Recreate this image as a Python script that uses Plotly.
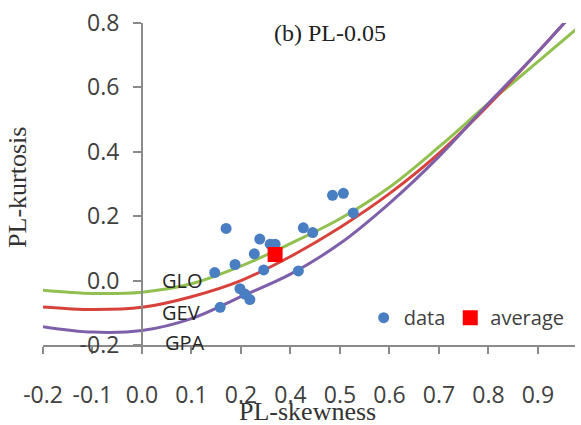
import plotly.graph_objects as go

# Theoretical curves (PL-skewness, PL-kurtosis)
curve_x = [-0.2, -0.1, 0.0, 0.1, 0.2, 0.3, 0.4, 0.5, 0.6, 0.7, 0.8, 0.9]
glo_y = [-0.030, -0.040, -0.036, -0.010, 0.045, 0.115, 0.192, 0.290, 0.415, 0.550, 0.680, 0.810]
gev_y = [-0.082, -0.090, -0.083, -0.050, 0.000, 0.075, 0.165, 0.270, 0.395, 0.545, 0.710, 0.880]
gpa_y = [-0.143, -0.160, -0.155, -0.118, -0.050, 0.020, 0.115, 0.240, 0.385, 0.550, 0.710, 0.880]

# Observed data points
data_x = [0.147, 0.158, 0.170, 0.188, 0.198, 0.208, 0.218, 0.227, 0.238, 0.246,
          0.259, 0.269, 0.316, 0.326, 0.345, 0.385, 0.407, 0.427]
data_y = [0.025, -0.083, 0.162, 0.050, -0.025, -0.042, -0.059, 0.083, 0.129, 0.033,
          0.113, 0.113, 0.030, 0.164, 0.149, 0.265, 0.271, 0.210]

avg_x = [0.269]
avg_y = [0.081]

# Tick labels (as printed on the original chart)
x_tickvals = [-0.2, -0.1, 0.0, 0.1, 0.2, 0.3, 0.4, 0.5, 0.6, 0.7, 0.8]
x_ticktext = ["-0.2", "-0.1", "0.0", "0.1", "0.2", "0.4", "0.5", "0.6", "0.7", "0.8", "0.9"]
y_tickvals = [-0.2, 0.0, 0.2, 0.4, 0.6, 0.8]
y_ticktext = ["-0.2", "0.0", "0.2", "0.4", "0.6", "0.8"]

curve_labels = ["GLO", "GEV", "GPA"]
label_y = [0.0, -0.098, -0.191]
label_x = [0.036, 0.036, 0.043]

SANS = "Open Sans"
SERIF = "Liberation Serif"
AXIS_COLOR = "#8a8a8a"

fig = go.Figure()
for ys, col in [(glo_y, "#92C050"), (gev_y, "#D8423C"), (gpa_y, "#7E5FAA")]:
    fig.add_trace(go.Scatter(x=curve_x, y=ys, mode="lines", showlegend=False,
                             line=dict(color=col, width=3, shape="spline", smoothing=1.0),
                             hoverinfo="skip"))

fig.add_trace(go.Scatter(x=data_x, y=data_y, mode="markers", name="data",
                         marker=dict(color="#4A7EC2", size=11, symbol="circle")))
fig.add_trace(go.Scatter(x=avg_x, y=avg_y, mode="markers", name="average",
                         marker=dict(color="#FF0000", size=15, symbol="square")))

annotations = []
for t, lx, ly in zip(curve_labels, label_x, label_y):
    annotations.append(dict(x=lx, y=ly, xref="x", yref="y", text=t, showarrow=False,
                            xanchor="left", yanchor="middle",
                            font=dict(family=SANS, size=20, color="#262626")))
annotations.append(dict(x=0.539, y=0.97, xref="paper", yref="paper", text="(b) PL-0.05",
                        showarrow=False, xanchor="center", yanchor="middle",
                        font=dict(family=SERIF, size=24, color="#222222")))
annotations.append(dict(x=-0.047, y=0.491, xref="paper", yref="paper", text="PL-kurtosis",
                        showarrow=False, textangle=-90, xanchor="center", yanchor="middle",
                        font=dict(family=SERIF, size=26, color="#333333")))
annotations.append(dict(x=0.498, y=-0.207, xref="paper", yref="paper", text="PL-skewness",
                        showarrow=False, xanchor="center", yanchor="middle",
                        font=dict(family=SERIF, size=26, color="#333333")))

fig.update_layout(
    width=581, height=425,
    margin=dict(l=43, r=6, t=15, b=80),
    plot_bgcolor="white", paper_bgcolor="white",
    showlegend=True,
    legend=dict(orientation="h", x=0.99, xanchor="right", y=0.085, yanchor="middle",
                font=dict(family=SANS, size=20, color="#404040"),
                bgcolor="rgba(0,0,0,0)", itemwidth=30, tracegroupgap=0),
    xaxis=dict(range=[-0.2, 0.875], showgrid=False, zeroline=False,
               showline=True, linecolor=AXIS_COLOR, linewidth=2,
               ticks="outside", ticklen=7, tickwidth=2, tickcolor=AXIS_COLOR,
               tickvals=x_tickvals, ticktext=x_ticktext,
               tickfont=dict(family=SANS, size=23, color="#404040"),
               ticklabelstandoff=21, ticklabeloverflow="allow"),
    yaxis=dict(range=[-0.2, 0.8], showgrid=False, zeroline=False,
               anchor="free", position=0.186,
               showline=True, linecolor=AXIS_COLOR, linewidth=2,
               ticks="outside", ticklen=8, tickwidth=2, tickcolor=AXIS_COLOR,
               tickvals=y_tickvals, ticktext=y_ticktext,
               tickfont=dict(family=SANS, size=23, color="#404040"),
               ticklabelstandoff=9, ticklabeloverflow="allow"),
    annotations=annotations,
)

fig.write_html("out.html", config={"displayModeBar": False},
               post_script="document.body.style.margin='0';")
